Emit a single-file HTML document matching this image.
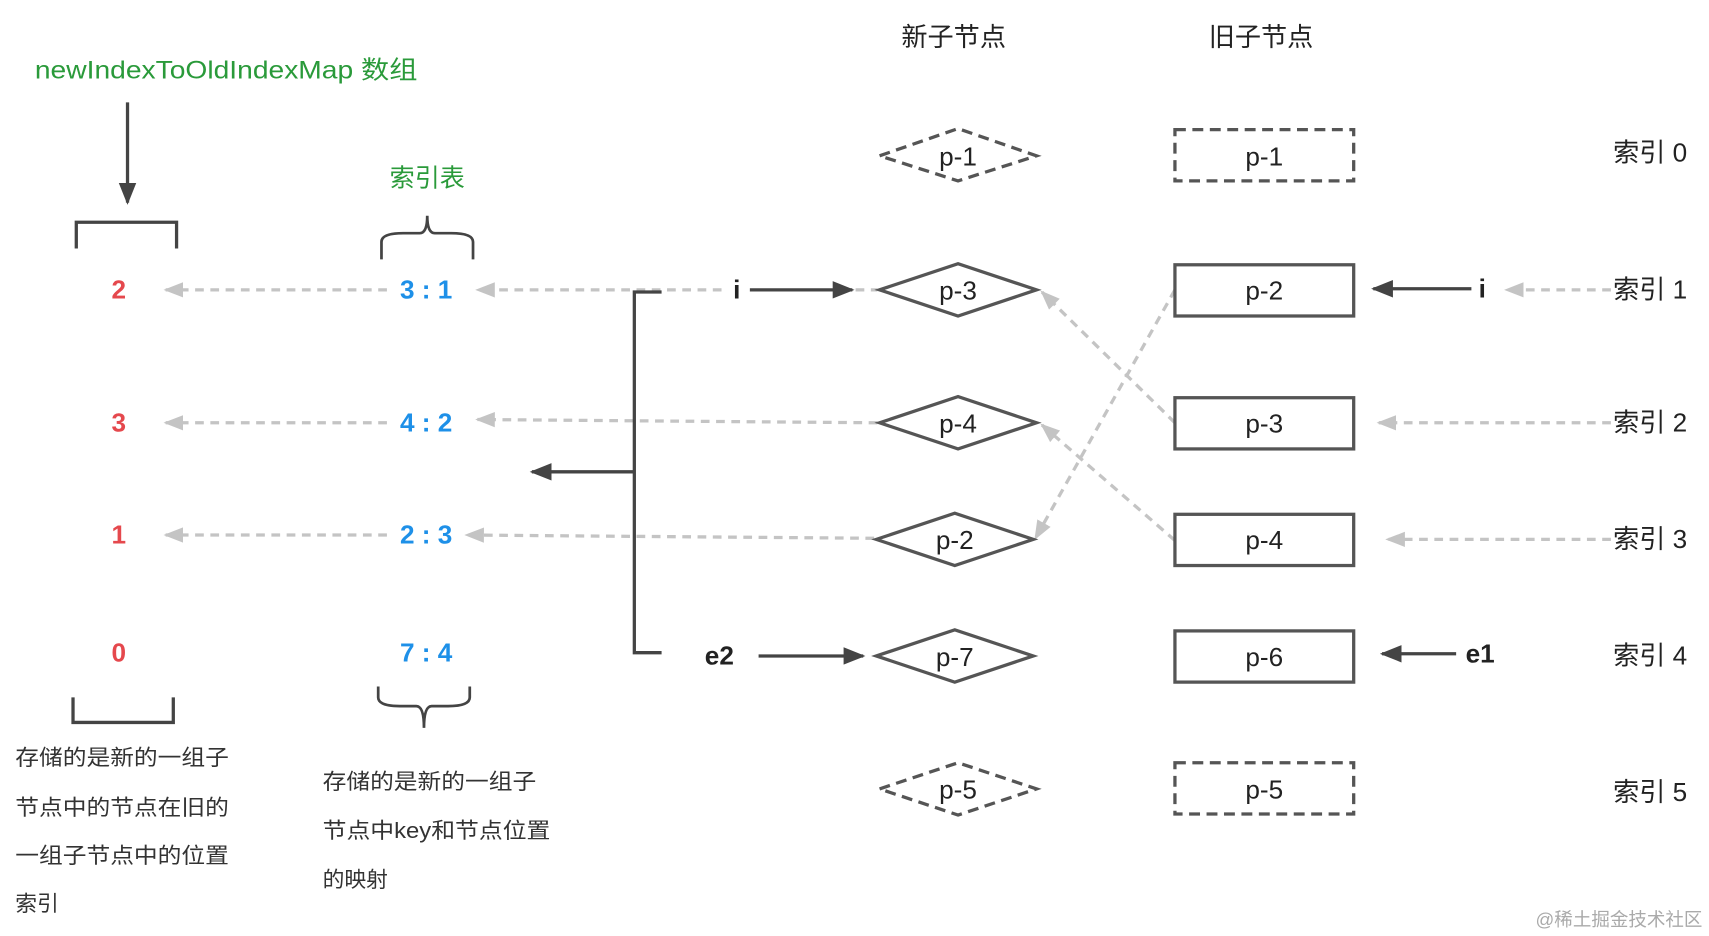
<!DOCTYPE html>
<html><head><meta charset="utf-8"><style>
html,body{margin:0;padding:0;background:#fff;}
svg{display:block;}
text{font-family:"Liberation Sans","Noto Sans CJK SC",sans-serif;}
</style></head><body>
<svg width="1709" height="936" viewBox="0 0 1568 859" preserveAspectRatio="none" xmlns="http://www.w3.org/2000/svg">
<defs>
<marker id="ag" markerWidth="18" markerHeight="18" refX="16" refY="9" orient="auto" markerUnits="userSpaceOnUse" viewBox="0 0 18 18"><path d="M0,2 L18,9 L0,16 z" fill="#c4c4c4"/></marker>
<marker id="ad" markerWidth="20" markerHeight="18" refX="18" refY="9" orient="auto" markerUnits="userSpaceOnUse" viewBox="0 0 20 18"><path d="M0,1 L20,9 L0,17 z" fill="#444"/></marker>
</defs>
<g font-size="24" fill="#222">
<text x="875" y="42" text-anchor="middle">新子节点</text>
<text x="1157" y="42" text-anchor="middle">旧子节点</text>
</g>
<text x="32" y="72" font-size="23" fill="#2a9a3a" textLength="351" lengthAdjust="spacingAndGlyphs">newIndexToOldIndexMap 数组</text>
<text x="392" y="171" font-size="23" fill="#2a9a3a" text-anchor="middle">索引表</text>
<line x1="117" y1="94" x2="117" y2="186" stroke="#444" stroke-width="3" marker-end="url(#ad)"/>
<path d="M70,228 V204 H162 V228" fill="none" stroke="#444" stroke-width="3"/>
<path d="M67,640 V663 H159 V640" fill="none" stroke="#444" stroke-width="3"/>
<path d="M350,238 V222 Q350,214 370,214 H385 Q392,214 392,198 Q392,214 399,214 H414 Q434,214 434,222 V238" fill="none" stroke="#444" stroke-width="2.5"/>
<path d="M347,630 V640 Q347,648 367,648 H382 Q389,648 389,668 Q389,648 396,648 H411 Q431,648 431,640 V630" fill="none" stroke="#444" stroke-width="2.5"/>
<g font-size="24" font-weight="bold" text-anchor="middle" fill="#e5484d">
<text x="109" y="274">2</text><text x="109" y="396">3</text><text x="109" y="499">1</text><text x="109" y="607">0</text>
</g>
<g font-size="24" font-weight="bold" text-anchor="middle" fill="#1e90e8">
<text x="391" y="274">3 : 1</text><text x="391" y="396">4 : 2</text><text x="391" y="499">2 : 3</text><text x="391" y="607">7 : 4</text>
</g>
<g stroke="#c4c4c4" stroke-width="3" stroke-dasharray="8,6" fill="none" marker-end="url(#ag)">
<line x1="355" y1="266" x2="152" y2="266"/>
<line x1="355" y1="388" x2="152" y2="388"/>
<line x1="355" y1="491" x2="152" y2="491"/>
<line x1="662" y1="266" x2="438" y2="266"/>
<line x1="805" y1="388" x2="438" y2="385"/>
<line x1="802" y1="494" x2="428" y2="491"/>
<line x1="1478" y1="266" x2="1382" y2="266"/>
<line x1="1478" y1="388" x2="1265" y2="388"/>
<line x1="1478" y1="495" x2="1273" y2="495"/>
<line x1="1078" y1="388" x2="956" y2="268"/>
<line x1="1078" y1="496" x2="956" y2="390"/>
<line x1="1078" y1="266" x2="950" y2="494"/>
</g>
<line x1="785" y1="266" x2="805" y2="266" stroke="#c4c4c4" stroke-width="3" stroke-dasharray="8,6"/>
<path d="M607,268 H582 V599 H607" fill="none" stroke="#444" stroke-width="3"/>
<line x1="582" y1="433" x2="488" y2="433" stroke="#444" stroke-width="3" marker-end="url(#ad)"/>
<text x="676" y="274" font-size="24" font-weight="bold" text-anchor="middle" fill="#222">i</text>
<line x1="688" y1="266" x2="782" y2="266" stroke="#444" stroke-width="3" marker-end="url(#ad)"/>
<text x="660" y="610" font-size="24" font-weight="bold" text-anchor="middle" fill="#222">e2</text>
<line x1="696" y1="602" x2="792" y2="602" stroke="#444" stroke-width="3" marker-end="url(#ad)"/>
<text x="1360" y="273" font-size="24" font-weight="bold" text-anchor="middle" fill="#222">i</text>
<line x1="1350" y1="265" x2="1260" y2="265" stroke="#444" stroke-width="3" marker-end="url(#ad)"/>
<text x="1358" y="608" font-size="24" font-weight="bold" text-anchor="middle" fill="#222">e1</text>
<line x1="1336" y1="600" x2="1268" y2="600" stroke="#444" stroke-width="3" marker-end="url(#ad)"/>
<g fill="#fff" stroke="#555" stroke-width="3">
<polygon points="807,143 879,118 951,143 879,166" stroke-dasharray="10,6"/>
<polygon points="807,266 879,242 951,266 879,290"/>
<polygon points="807,388 879,364 951,388 879,412"/>
<polygon points="804,495 876,471 948,495 876,519"/>
<polygon points="804,602 876,578 948,602 876,626"/>
<polygon points="807,724 879,700 951,724 879,748" stroke-dasharray="10,6"/>
<rect x="1078" y="119" width="164" height="47" stroke-dasharray="10,6"/>
<rect x="1078" y="243" width="164" height="47"/>
<rect x="1078" y="365" width="164" height="47"/>
<rect x="1078" y="472" width="164" height="47"/>
<rect x="1078" y="579" width="164" height="47"/>
<rect x="1078" y="700" width="164" height="47" stroke-dasharray="10,6"/>
</g>
<g font-size="24" text-anchor="middle" fill="#222">
<text x="879" y="152">p-1</text><text x="879" y="275">p-3</text><text x="879" y="397">p-4</text>
<text x="876" y="504">p-2</text><text x="876" y="611">p-7</text><text x="879" y="733">p-5</text>
<text x="1160" y="152">p-1</text><text x="1160" y="275">p-2</text><text x="1160" y="397">p-3</text>
<text x="1160" y="504">p-4</text><text x="1160" y="611">p-6</text><text x="1160" y="733">p-5</text>
</g>
<g font-size="24" fill="#222">
<text x="1480" y="148">索引 0</text><text x="1480" y="274">索引 1</text><text x="1480" y="396">索引 2</text>
<text x="1480" y="503">索引 3</text><text x="1480" y="610">索引 4</text><text x="1480" y="735">索引 5</text>
</g>
<g font-size="20" fill="#333">
<text x="14" y="702" textLength="196" lengthAdjust="spacingAndGlyphs">存储的是新的一组子</text>
<text x="14" y="748" textLength="196" lengthAdjust="spacingAndGlyphs">节点中的节点在旧的</text>
<text x="14" y="792" textLength="196" lengthAdjust="spacingAndGlyphs">一组子节点中的位置</text>
<text x="14" y="836">索引</text>
<text x="296" y="724" textLength="196" lengthAdjust="spacingAndGlyphs">存储的是新的一组子</text>
<text x="296" y="769" textLength="209" lengthAdjust="spacingAndGlyphs">节点中key和节点位置</text>
<text x="296" y="814">的映射</text>
</g>
<text x="1562" y="850" font-size="17" fill="#aaa" text-anchor="end">@稀土掘金技术社区</text>
</svg>
</body></html>
